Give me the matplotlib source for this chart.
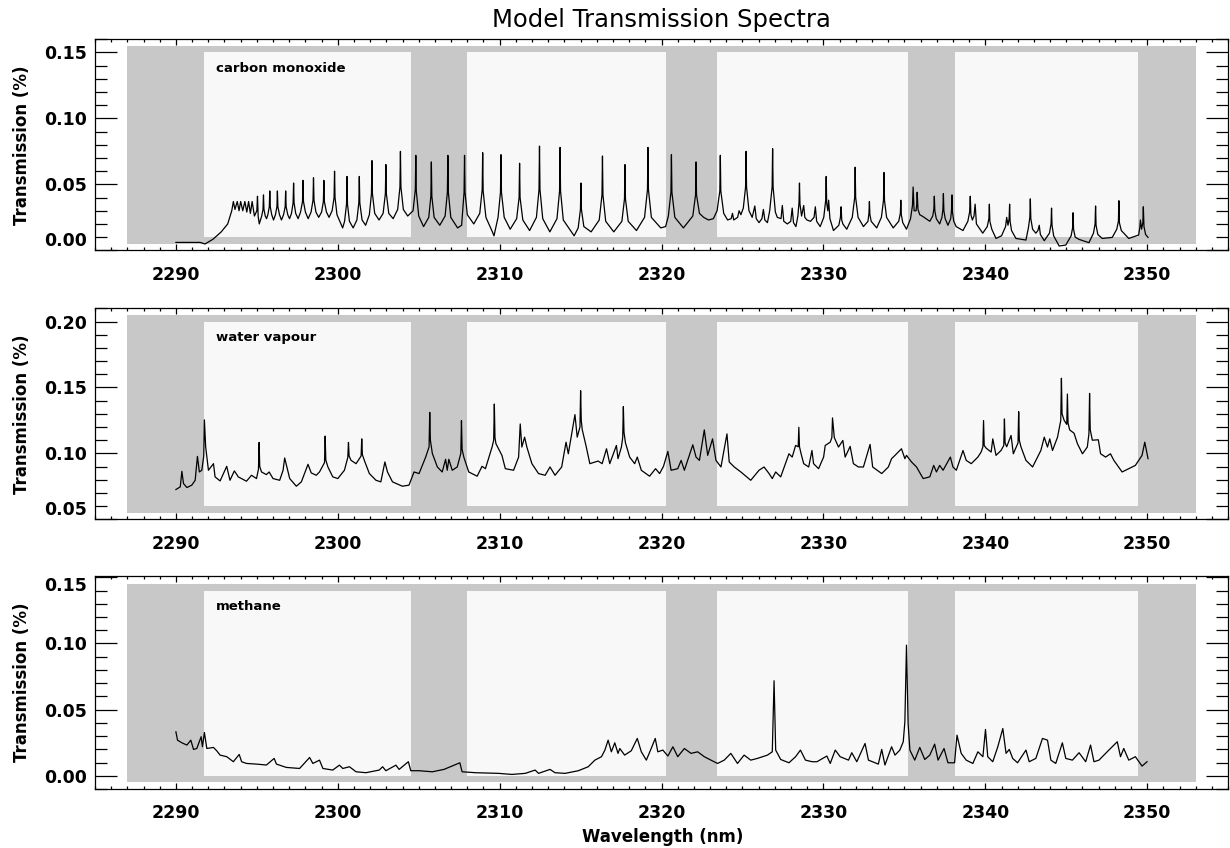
import matplotlib
matplotlib.use("Agg")
import matplotlib.pyplot as plt
from matplotlib.patches import Rectangle
from matplotlib.ticker import MultipleLocator, FormatStrFormatter

# ---- spectra (wavelength nm, transmission) ----
co_spec = [
    (2290.0, 0.006), (2291.5, 0.006), (2291.8, 0.0048), (2292.3, 0.0085), (2292.8, 0.014),
    (2293.2, 0.020), (2293.45, 0.030), (2293.55, 0.037), (2293.65, 0.031), (2293.79, 0.037),
    (2293.9, 0.030), (2294.0, 0.037), (2294.13, 0.030), (2294.26, 0.037), (2294.38, 0.029),
    (2294.49, 0.037), (2294.6, 0.028), (2294.71, 0.037), (2294.85, 0.026),
    (2295.0, 0.030), (2295.04, 0.041), (2295.08, 0.026), (2295.15, 0.020),
    (2295.3, 0.026), (2295.38, 0.031), (2295.41, 0.042), (2295.44, 0.031), (2295.52, 0.026), (2295.6, 0.024),
    (2295.68, 0.027), (2295.77, 0.033), (2295.8, 0.045), (2295.83, 0.033), (2295.92, 0.027), (2296.03, 0.023),
    (2296.15, 0.027), (2296.24, 0.033), (2296.27, 0.045), (2296.3, 0.033), (2296.4, 0.027), (2296.52, 0.023),
    (2296.65, 0.027), (2296.75, 0.033), (2296.78, 0.045), (2296.81, 0.033), (2296.91, 0.027), (2297.02, 0.024),
    (2297.14, 0.028), (2297.24, 0.036), (2297.27, 0.051), (2297.3, 0.036), (2297.4, 0.028), (2297.55, 0.024),
    (2297.7, 0.029), (2297.82, 0.037), (2297.85, 0.053), (2297.88, 0.037), (2298.0, 0.029), (2298.17, 0.024),
    (2298.35, 0.029), (2298.47, 0.038), (2298.5, 0.055), (2298.53, 0.038), (2298.65, 0.029), (2298.82, 0.025),
    (2299.0, 0.029), (2299.11, 0.037), (2299.14, 0.053), (2299.17, 0.037), (2299.3, 0.029), (2299.46, 0.025),
    (2299.65, 0.030), (2299.77, 0.040), (2299.8, 0.060), (2299.83, 0.040), (2299.95, 0.027), (2300.3, 0.017),
    (2300.42, 0.022), (2300.54, 0.035), (2300.57, 0.056), (2300.6, 0.035), (2300.72, 0.022), (2300.95, 0.017),
    (2301.18, 0.023), (2301.3, 0.036), (2301.33, 0.056), (2301.36, 0.036), (2301.5, 0.023), (2301.72, 0.019),
    (2301.95, 0.027), (2302.08, 0.043), (2302.11, 0.068), (2302.14, 0.043), (2302.28, 0.028), (2302.55, 0.023),
    (2302.8, 0.028), (2302.94, 0.043), (2302.97, 0.065), (2303.0, 0.043), (2303.15, 0.028), (2303.42, 0.024),
    (2303.7, 0.031), (2303.84, 0.048), (2303.87, 0.075), (2303.9, 0.048), (2304.05, 0.031), (2304.32, 0.026),
    (2304.65, 0.030), (2304.79, 0.046), (2304.82, 0.072), (2304.85, 0.045), (2305.0, 0.026), (2305.3, 0.018),
    (2305.62, 0.025), (2305.75, 0.041), (2305.78, 0.067), (2305.81, 0.041), (2305.95, 0.025), (2306.3, 0.019),
    (2306.63, 0.026), (2306.77, 0.044), (2306.8, 0.072), (2306.83, 0.044), (2306.98, 0.025), (2307.4, 0.017),
    (2307.65, 0.019), (2307.8, 0.044), (2307.83, 0.072), (2307.86, 0.044), (2308.0, 0.027), (2308.4, 0.020),
    (2308.77, 0.028), (2308.92, 0.046), (2308.95, 0.074), (2308.98, 0.045), (2309.15, 0.025), (2309.55, 0.014),
    (2309.65, 0.011), (2309.9, 0.025), (2310.05, 0.044), (2310.08, 0.0725), (2310.11, 0.044), (2310.28, 0.025),
    (2310.65, 0.016), (2311.05, 0.024), (2311.2, 0.040), (2311.23, 0.066), (2311.26, 0.040), (2311.43, 0.023),
    (2311.85, 0.015), (2312.27, 0.025), (2312.43, 0.046), (2312.46, 0.079), (2312.49, 0.046), (2312.66, 0.024),
    (2313.1, 0.014), (2313.54, 0.024), (2313.7, 0.045), (2313.73, 0.078), (2313.76, 0.045), (2313.93, 0.023),
    (2314.6, 0.011), (2314.85, 0.017), (2314.99, 0.031), (2315.02, 0.051), (2315.05, 0.031), (2315.2, 0.018),
    (2315.65, 0.014), (2316.15, 0.023), (2316.32, 0.042), (2316.35, 0.0715), (2316.38, 0.042), (2316.55, 0.022),
    (2317.05, 0.014), (2317.55, 0.022), (2317.71, 0.039), (2317.74, 0.065), (2317.77, 0.039), (2317.94, 0.022),
    (2318.45, 0.015), (2318.95, 0.025), (2319.13, 0.046), (2319.16, 0.078), (2319.19, 0.046), (2319.37, 0.025),
    (2319.95, 0.017), (2320.25, 0.018), (2320.42, 0.026), (2320.58, 0.044), (2320.61, 0.0725), (2320.64, 0.044),
    (2320.82, 0.025), (2321.35, 0.017), (2321.93, 0.026), (2322.1, 0.042), (2322.13, 0.067), (2322.16, 0.042),
    (2322.34, 0.028), (2322.6, 0.025), (2322.9, 0.023), (2323.2, 0.024), (2323.43, 0.030), (2323.6, 0.045),
    (2323.63, 0.072), (2323.66, 0.045), (2323.84, 0.028), (2324.08, 0.023), (2324.3, 0.024), (2324.38, 0.028),
    (2324.46, 0.023), (2324.7, 0.025), (2324.79, 0.030), (2324.9, 0.027), (2325.05, 0.032), (2325.19, 0.048),
    (2325.22, 0.075), (2325.25, 0.048), (2325.4, 0.030), (2325.6, 0.025), (2325.76, 0.0336), (2325.85, 0.024),
    (2326.02, 0.021), (2326.2, 0.024), (2326.29, 0.031), (2326.38, 0.023), (2326.54, 0.021), (2326.68, 0.030),
    (2326.83, 0.048), (2326.86, 0.077), (2326.89, 0.048), (2327.03, 0.029), (2327.15, 0.025), (2327.38, 0.024),
    (2327.46, 0.034), (2327.55, 0.022), (2327.77, 0.020), (2327.98, 0.022), (2328.07, 0.032), (2328.15, 0.021),
    (2328.3, 0.018), (2328.42, 0.026), (2328.49, 0.036), (2328.52, 0.051), (2328.55, 0.035), (2328.65, 0.026),
    (2328.78, 0.034), (2328.85, 0.025), (2328.98, 0.023), (2329.2, 0.022), (2329.42, 0.025), (2329.5, 0.033),
    (2329.58, 0.022), (2329.8, 0.018), (2330.02, 0.025), (2330.14, 0.038), (2330.17, 0.056), (2330.2, 0.036),
    (2330.27, 0.030), (2330.32, 0.038), (2330.4, 0.024), (2330.62, 0.015), (2330.95, 0.019), (2331.05, 0.025),
    (2331.09, 0.033), (2331.13, 0.023), (2331.2, 0.020), (2331.44, 0.016), (2331.78, 0.025), (2331.93, 0.040),
    (2331.96, 0.063), (2331.99, 0.040), (2332.14, 0.025), (2332.47, 0.018), (2332.75, 0.022), (2332.81, 0.028),
    (2332.84, 0.037), (2332.87, 0.027), (2332.95, 0.022), (2333.29, 0.017), (2333.58, 0.025), (2333.71, 0.038),
    (2333.74, 0.059), (2333.77, 0.038), (2333.9, 0.025), (2334.31, 0.017), (2334.65, 0.022), (2334.75, 0.028),
    (2334.78, 0.038), (2334.81, 0.027), (2334.9, 0.021), (2335.13, 0.016), (2335.38, 0.024), (2335.5, 0.034),
    (2335.54, 0.048), (2335.6, 0.030), (2335.72, 0.030), (2335.76, 0.034), (2335.79, 0.044), (2335.84, 0.031),
    (2335.95, 0.027), (2336.16, 0.0255), (2336.57, 0.022), (2336.75, 0.026), (2336.82, 0.031), (2336.85, 0.041),
    (2336.88, 0.030), (2336.97, 0.024), (2337.18, 0.020), (2337.32, 0.025), (2337.38, 0.031), (2337.41, 0.043),
    (2337.44, 0.030), (2337.52, 0.024), (2337.69, 0.019), (2337.86, 0.024), (2337.91, 0.030), (2337.94, 0.042),
    (2337.97, 0.029), (2338.05, 0.022), (2338.2, 0.018), (2338.62, 0.015), (2338.92, 0.022), (2339.03, 0.029),
    (2339.07, 0.041), (2339.11, 0.027), (2339.2, 0.023), (2339.3, 0.026), (2339.37, 0.035), (2339.45, 0.020),
    (2339.84, 0.013), (2340.12, 0.018), (2340.22, 0.024), (2340.25, 0.035), (2340.28, 0.022), (2340.4, 0.016),
    (2340.66, 0.009), (2341.0, 0.011), (2341.25, 0.018), (2341.32, 0.025), (2341.4, 0.019), (2341.47, 0.024),
    (2341.5, 0.035), (2341.53, 0.022), (2341.62, 0.015), (2341.89, 0.009), (2342.51, 0.0078), (2342.66, 0.017),
    (2342.75, 0.025), (2342.78, 0.039), (2342.81, 0.024), (2342.92, 0.016), (2343.12, 0.013), (2343.25, 0.015),
    (2343.33, 0.019), (2343.4, 0.012), (2343.64, 0.0073), (2343.96, 0.013), (2344.06, 0.020), (2344.09, 0.032),
    (2344.12, 0.019), (2344.22, 0.011), (2344.56, 0.0033), (2344.97, 0.004), (2345.3, 0.011), (2345.39, 0.017),
    (2345.42, 0.0285), (2345.45, 0.016), (2345.55, 0.010), (2345.79, 0.0083), (2346.4, 0.0058), (2346.68, 0.013),
    (2346.78, 0.020), (2346.81, 0.0336), (2346.84, 0.019), (2346.95, 0.012), (2347.22, 0.009), (2347.84, 0.0098),
    (2348.12, 0.016), (2348.22, 0.022), (2348.25, 0.0376), (2348.28, 0.021), (2348.4, 0.015), (2348.86, 0.009),
    (2349.47, 0.0116), (2349.55, 0.018), (2349.58, 0.023), (2349.65, 0.016), (2349.73, 0.021), (2349.76, 0.033),
    (2349.8, 0.018), (2349.9, 0.012), (2350.05, 0.0098),
]

h2o_spec = [
    (2290.0, 0.0726), (2290.27, 0.0746), (2290.37, 0.0864), (2290.47, 0.0771), (2290.68, 0.0741),
    (2290.98, 0.0759), (2291.19, 0.0796), (2291.33, 0.0977), (2291.45, 0.0859), (2291.6, 0.0872),
    (2291.72, 0.0980), (2291.76, 0.1254), (2291.84, 0.1048), (2292.01, 0.0872), (2292.32, 0.0922),
    (2292.42, 0.0822), (2292.73, 0.0791), (2293.14, 0.0902), (2293.34, 0.0796), (2293.61, 0.0867),
    (2293.75, 0.0842), (2293.85, 0.0822), (2294.36, 0.0789), (2294.67, 0.0834), (2294.98, 0.0809),
    (2295.1, 0.0880), (2295.14, 0.1083), (2295.18, 0.0900), (2295.29, 0.0859), (2295.59, 0.0839),
    (2295.76, 0.0859), (2296.0, 0.0809), (2296.41, 0.0796), (2296.62, 0.0872), (2296.72, 0.0965),
    (2296.93, 0.0859), (2297.03, 0.0809), (2297.44, 0.0751), (2297.75, 0.0784), (2298.16, 0.0917),
    (2298.36, 0.0852), (2298.67, 0.0834), (2298.87, 0.0859), (2299.18, 0.0930), (2299.22, 0.1131),
    (2299.26, 0.0950), (2299.39, 0.0897), (2299.69, 0.0822), (2300.0, 0.0809), (2300.41, 0.0872),
    (2300.62, 0.0970), (2300.66, 0.1083), (2300.7, 0.0980), (2300.82, 0.0947), (2301.13, 0.0922),
    (2301.44, 0.0980), (2301.48, 0.1110), (2301.52, 0.0990), (2301.64, 0.0947), (2301.95, 0.0847),
    (2302.36, 0.0796), (2302.66, 0.0784), (2302.91, 0.0935), (2303.07, 0.0859), (2303.38, 0.0784),
    (2303.99, 0.0751), (2304.4, 0.0759), (2304.71, 0.0859), (2305.02, 0.0847), (2305.43, 0.0972),
    (2305.64, 0.1050), (2305.68, 0.1311), (2305.72, 0.1100), (2305.84, 0.1000), (2306.15, 0.0897),
    (2306.45, 0.0859), (2306.66, 0.0955), (2306.76, 0.0872), (2306.86, 0.0955), (2307.07, 0.0872),
    (2307.38, 0.0897), (2307.6, 0.1000), (2307.64, 0.1249), (2307.68, 0.1030), (2307.79, 0.0970),
    (2308.09, 0.0859), (2308.61, 0.0827), (2308.91, 0.0902), (2309.12, 0.0884), (2309.53, 0.1048),
    (2309.63, 0.1100), (2309.67, 0.1374), (2309.71, 0.1120), (2309.77, 0.1073), (2310.14, 0.0985),
    (2310.35, 0.0884), (2310.86, 0.0872), (2311.17, 0.0972), (2311.27, 0.1223), (2311.37, 0.1048),
    (2311.54, 0.1123), (2311.68, 0.1048), (2311.99, 0.0922), (2312.4, 0.0847), (2312.81, 0.0834),
    (2313.11, 0.0897), (2313.42, 0.0834), (2313.83, 0.0897), (2314.1, 0.1085), (2314.24, 0.0997),
    (2314.65, 0.1294), (2314.79, 0.1123), (2314.96, 0.1200), (2315.0, 0.1475), (2315.04, 0.1250),
    (2315.1, 0.1180), (2315.33, 0.1060), (2315.57, 0.0922), (2316.08, 0.0942), (2316.33, 0.0922),
    (2316.6, 0.1035), (2316.8, 0.0922), (2317.21, 0.1060), (2317.31, 0.0960), (2317.52, 0.1048),
    (2317.6, 0.1120), (2317.64, 0.1354), (2317.68, 0.1160), (2317.77, 0.1080), (2318.03, 0.0972),
    (2318.34, 0.0922), (2318.5, 0.0972), (2318.75, 0.0872), (2319.26, 0.0827), (2319.63, 0.0884),
    (2319.88, 0.0847), (2320.12, 0.0902), (2320.39, 0.1015), (2320.59, 0.0872), (2321.0, 0.0884),
    (2321.21, 0.0947), (2321.41, 0.0872), (2321.93, 0.1065), (2322.13, 0.0972), (2322.34, 0.0947),
    (2322.64, 0.1178), (2322.85, 0.0985), (2323.15, 0.1110), (2323.36, 0.0947), (2323.67, 0.0897),
    (2324.04, 0.1148), (2324.18, 0.0935), (2324.49, 0.0897), (2324.9, 0.0859), (2325.51, 0.0796),
    (2326.02, 0.0872), (2326.33, 0.0897), (2326.64, 0.0847), (2326.84, 0.0809), (2327.05, 0.0859),
    (2327.36, 0.0822), (2327.87, 0.0997), (2328.07, 0.0972), (2328.28, 0.1060), (2328.44, 0.1050),
    (2328.48, 0.1198), (2328.52, 0.1050), (2328.62, 0.0997), (2328.78, 0.0922), (2329.09, 0.0897),
    (2329.29, 0.1022), (2329.39, 0.0922), (2329.7, 0.0884), (2330.01, 0.0972), (2330.11, 0.1060),
    (2330.42, 0.1085), (2330.52, 0.1120), (2330.56, 0.1269), (2330.67, 0.1120), (2330.93, 0.1048),
    (2331.2, 0.1098), (2331.34, 0.0972), (2331.65, 0.1053), (2331.85, 0.0922), (2332.16, 0.0897),
    (2332.47, 0.0897), (2332.88, 0.1068), (2333.04, 0.0897), (2333.6, 0.0847), (2334.01, 0.0897),
    (2334.21, 0.0960), (2334.42, 0.0985), (2334.82, 0.1035), (2335.03, 0.0960), (2335.13, 0.0985),
    (2335.44, 0.0935), (2335.75, 0.0897), (2336.16, 0.0809), (2336.57, 0.0822), (2336.81, 0.0909),
    (2336.98, 0.0859), (2337.18, 0.0909), (2337.39, 0.0872), (2337.84, 0.0972), (2338.0, 0.0897),
    (2338.21, 0.0872), (2338.62, 0.1022), (2338.82, 0.0947), (2339.13, 0.0922), (2339.54, 0.0972),
    (2339.74, 0.1010), (2339.85, 0.1050), (2339.89, 0.1249), (2339.93, 0.1060), (2340.05, 0.1040),
    (2340.36, 0.1010), (2340.46, 0.1110), (2340.66, 0.0985), (2340.97, 0.1022), (2341.14, 0.1060),
    (2341.18, 0.1261), (2341.22, 0.1080), (2341.32, 0.1050), (2341.59, 0.1136), (2341.73, 0.0997),
    (2342.02, 0.1080), (2342.06, 0.1316), (2342.1, 0.1100), (2342.2, 0.1050), (2342.51, 0.0947),
    (2342.92, 0.0897), (2343.43, 0.1022), (2343.64, 0.1123), (2343.84, 0.1048), (2343.98, 0.1110),
    (2344.15, 0.1022), (2344.46, 0.1123), (2344.66, 0.1250), (2344.7, 0.1570), (2344.74, 0.1300),
    (2344.87, 0.1250), (2345.03, 0.1220), (2345.07, 0.1450), (2345.11, 0.1230), (2345.21, 0.1178),
    (2345.48, 0.1153), (2345.69, 0.1073), (2346.0, 0.0997), (2346.3, 0.1048), (2346.4, 0.1150),
    (2346.44, 0.1455), (2346.48, 0.1180), (2346.61, 0.1100), (2346.98, 0.1103), (2347.12, 0.0997),
    (2347.43, 0.0972), (2347.73, 0.0997), (2347.94, 0.0947), (2348.45, 0.0859), (2348.86, 0.0884),
    (2349.27, 0.0909), (2349.68, 0.0985), (2349.85, 0.1085), (2350.05, 0.0960),
]

ch4_spec = [
    (2290.0, 0.0332), (2290.1, 0.0269), (2290.37, 0.0249), (2290.68, 0.0232), (2290.92, 0.0269),
    (2291.09, 0.0199), (2291.29, 0.0206), (2291.56, 0.0295), (2291.64, 0.0219), (2291.76, 0.0327),
    (2291.91, 0.0206), (2292.32, 0.0214), (2292.52, 0.0189), (2292.73, 0.0156), (2293.14, 0.0144),
    (2293.55, 0.0106), (2293.91, 0.0161), (2294.06, 0.0106), (2294.36, 0.0093), (2294.98, 0.0088),
    (2295.59, 0.0081), (2296.07, 0.0131), (2296.21, 0.0088), (2296.82, 0.0063), (2297.64, 0.0055),
    (2298.26, 0.0138), (2298.46, 0.0093), (2298.87, 0.0118), (2299.08, 0.0055), (2299.69, 0.0043),
    (2300.1, 0.0080), (2300.31, 0.0055), (2300.72, 0.0068), (2301.13, 0.0030), (2301.74, 0.0023),
    (2302.56, 0.0043), (2302.77, 0.0068), (2302.97, 0.0038), (2303.59, 0.0080), (2303.79, 0.0048),
    (2304.36, 0.0106), (2304.51, 0.0038), (2305.02, 0.0038), (2305.84, 0.0030), (2306.56, 0.0048),
    (2307.54, 0.0098), (2307.68, 0.0030), (2308.5, 0.0023), (2309.94, 0.0018), (2310.76, 0.0010),
    (2311.58, 0.0018), (2312.19, 0.0043), (2312.4, 0.0018), (2313.11, 0.0048), (2313.42, 0.0023),
    (2314.04, 0.0018), (2314.86, 0.0038), (2315.47, 0.0068), (2315.88, 0.0118), (2316.29, 0.0144),
    (2316.5, 0.0194), (2316.7, 0.0269), (2316.9, 0.0181), (2317.11, 0.0249), (2317.31, 0.0169),
    (2317.42, 0.0206), (2317.72, 0.0156), (2318.13, 0.0189), (2318.5, 0.0282), (2318.75, 0.0181),
    (2319.06, 0.0118), (2319.36, 0.0206), (2319.61, 0.0282), (2319.77, 0.0181), (2320.08, 0.0194),
    (2320.39, 0.0149), (2320.7, 0.0219), (2321.0, 0.0144), (2321.41, 0.0206), (2321.82, 0.0169),
    (2322.23, 0.0181), (2322.64, 0.0144), (2323.05, 0.0118), (2323.46, 0.0093), (2323.87, 0.0118),
    (2324.28, 0.0169), (2324.69, 0.0093), (2325.1, 0.0156), (2325.51, 0.0118), (2325.92, 0.0131),
    (2326.54, 0.0156), (2326.84, 0.0181), (2326.95, 0.0718), (2327.05, 0.0194), (2327.36, 0.0123),
    (2327.87, 0.0098), (2328.28, 0.0144), (2328.58, 0.0194), (2328.89, 0.0118), (2329.3, 0.0106),
    (2329.6, 0.0106), (2330.21, 0.0149), (2330.42, 0.0093), (2330.73, 0.0194), (2331.03, 0.0144),
    (2331.55, 0.0118), (2331.75, 0.0174), (2332.06, 0.0106), (2332.57, 0.0244), (2332.78, 0.0118),
    (2333.39, 0.0088), (2333.6, 0.0199), (2333.8, 0.0081), (2334.21, 0.0219), (2334.42, 0.0156),
    (2334.72, 0.0194), (2334.93, 0.0257), (2335.03, 0.0408), (2335.13, 0.0987), (2335.23, 0.0395),
    (2335.34, 0.0194), (2335.64, 0.0118), (2335.95, 0.0214), (2336.26, 0.0123), (2336.57, 0.0156),
    (2336.87, 0.0239), (2337.08, 0.0118), (2337.45, 0.0206), (2337.69, 0.0098), (2338.1, 0.0098),
    (2338.25, 0.0307), (2338.51, 0.0169), (2338.82, 0.0118), (2339.23, 0.0093), (2339.54, 0.0181),
    (2339.85, 0.0144), (2340.01, 0.0350), (2340.15, 0.0144), (2340.46, 0.0106), (2340.77, 0.0219),
    (2341.08, 0.0357), (2341.28, 0.0169), (2341.48, 0.0199), (2341.69, 0.0131), (2341.99, 0.0098),
    (2342.51, 0.0194), (2342.71, 0.0106), (2343.12, 0.0131), (2343.53, 0.0282), (2343.84, 0.0269),
    (2344.05, 0.0118), (2344.35, 0.0093), (2344.76, 0.0249), (2344.97, 0.0131), (2345.38, 0.0118),
    (2345.79, 0.0174), (2346.2, 0.0106), (2346.5, 0.0232), (2346.71, 0.0106), (2347.02, 0.0118),
    (2347.63, 0.0194), (2348.15, 0.0257), (2348.35, 0.0144), (2348.55, 0.0206), (2348.86, 0.0118),
    (2349.27, 0.0144), (2349.68, 0.0073), (2349.99, 0.0106),
]

# detector chips (light) and the grey backdrop
chips = [(2291.75, 2304.5), (2308.0, 2320.25), (2323.4, 2335.2), (2338.15, 2349.45)]
backdrop = (2287.0, 2353.0)

labels = ["carbon monoxide", "water vapour", "methane"]
spectra = [co_spec, h2o_spec, ch4_spec]
ylims = [(0.0, 0.16), (0.05, 0.21), (-0.01, 0.151)]
yticks = [[0.0, 0.05, 0.10, 0.15], [0.05, 0.10, 0.15, 0.20], [0.0, 0.05, 0.10, 0.15]]
chip_y = [(0.01, 0.15), (0.06, 0.20), (0.0, 0.14)]
grey_y = [(0.005, 0.155), (0.055, 0.205), (-0.005, 0.145)]

# axes rectangles in figure fraction
boxes = [[0.0772, 0.7048, 0.9213, 0.2489],
         [0.0772, 0.3876, 0.9213, 0.2488],
         [0.0772, 0.0696, 0.9213, 0.2512]]

GREY = "#c8c8c8"
LIGHT = "#f8f8f8"
FONT = "DejaVu Sans"

fig = plt.figure(figsize=(12.3, 8.48), dpi=100)

for i in range(3):
    ax = fig.add_axes(boxes[i])
    ax.set_xlim(2285, 2355)
    ax.set_ylim(*ylims[i])

    ax.add_patch(Rectangle((backdrop[0], grey_y[i][0]), backdrop[1] - backdrop[0],
                           grey_y[i][1] - grey_y[i][0], color=GREY, lw=0, zorder=0))
    for c0, c1 in chips:
        ax.add_patch(Rectangle((c0, chip_y[i][0]), c1 - c0, chip_y[i][1] - chip_y[i][0],
                               color=LIGHT, lw=0, zorder=1))

    wl = [p[0] for p in spectra[i]]
    tr = [p[1] for p in spectra[i]]
    ax.plot(wl, tr, color="black", lw=0.9, zorder=3)

    ax.text(2292.5, chip_y[i][1] - 0.012, labels[i], fontsize=9.5, fontweight="bold",
            family=FONT, va="center", ha="left", zorder=4)

    ax.set_xticks([2290, 2300, 2310, 2320, 2330, 2340, 2350])
    ax.xaxis.set_minor_locator(MultipleLocator(1))
    ax.set_yticks(yticks[i])
    ax.yaxis.set_minor_locator(MultipleLocator(0.01))
    ax.yaxis.set_major_formatter(FormatStrFormatter("%.2f"))

    ax.tick_params(direction="in", top=True, right=True, which="both", width=0.9)
    ax.tick_params(axis="y", which="major", length=16, pad=6)
    ax.tick_params(axis="y", which="minor", length=8.5)
    ax.tick_params(axis="x", which="major", length=4, pad=11)
    ax.tick_params(axis="x", which="minor", length=2)
    for lab in ax.get_xticklabels() + ax.get_yticklabels():
        lab.set_fontsize(12.5)
        lab.set_fontweight("bold")
        lab.set_family(FONT)
    # labels at the edge of the box are nudged inside, as in the IDL plot
    for lab, v in zip(ax.get_yticklabels(), yticks[i]):
        if abs(v - ylims[i][0]) < 1e-6:
            lab.set_va("bottom")
        elif ylims[i][1] - v < 0.005:
            lab.set_va("top")
    for s in ax.spines.values():
        s.set_linewidth(0.9)

    cy = boxes[i][1] + boxes[i][3] / 2
    fig.text(22 / 1230, cy, "Transmission (%)", rotation=90, fontsize=12,
             fontweight="bold", family=FONT, ha="center", va="center")

fig.text(0.538, 1 - 20 / 848, "Model Transmission Spectra", fontsize=17.5,
         family=FONT, ha="center", va="center")
fig.text(663 / 1230, 1 - 837 / 848, "Wavelength (nm)", fontsize=12,
         fontweight="bold", family=FONT, ha="center", va="center")

fig.savefig("out.png", dpi=100)
